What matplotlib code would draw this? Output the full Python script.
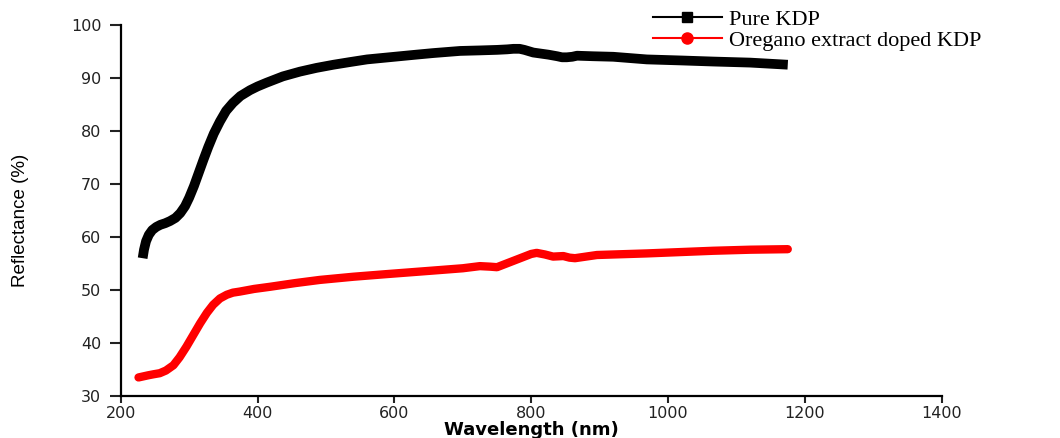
import matplotlib.pyplot as plt
from matplotlib.lines import Line2D

# reflectance spectra
wl_pure = [232, 234, 237, 241, 246, 252, 258, 265, 272, 280, 287, 294, 300, 307, 314,
           321, 328, 336, 345, 354, 364, 375, 389, 400, 413, 437, 462, 486, 511, 535,
           560, 584, 608, 632, 657, 696, 725, 750, 765, 774, 783, 790, 803, 825, 838,
           845, 852, 860, 867, 890, 920, 969, 1020, 1066, 1120, 1175]
r_pure = [56.0, 57.6, 59.2, 60.4, 61.3, 61.9, 62.3, 62.6, 63.0, 63.6, 64.5, 65.8, 67.4,
          69.6, 72.1, 74.6, 77.0, 79.5, 81.8, 83.8, 85.3, 86.6, 87.7, 88.4, 89.1, 90.3,
          91.2, 91.9, 92.5, 93.0, 93.5, 93.8, 94.1, 94.4, 94.7, 95.1, 95.2, 95.3, 95.4,
          95.5, 95.5, 95.3, 94.8, 94.4, 94.1, 93.9, 93.9, 94.0, 94.2, 94.1, 94.0, 93.5,
          93.3, 93.1, 92.9, 92.5]

wl_dop = [226, 233, 240, 248, 257, 266, 277, 286, 296, 306, 316, 326, 335, 345, 355,
          364, 374, 395, 418, 455, 491, 540, 589, 650, 700, 725, 740, 750, 762, 774,
          790, 800, 808, 820, 832, 847, 856, 864, 880, 896, 969, 1066, 1120, 1175]
r_dop = [33.5, 33.7, 33.9, 34.1, 34.3, 34.8, 35.8, 37.3, 39.3, 41.5, 43.7, 45.7, 47.2,
         48.4, 49.1, 49.5, 49.7, 50.2, 50.6, 51.3, 51.9, 52.5, 53.0, 53.6, 54.1, 54.5,
         54.4, 54.3, 54.9, 55.5, 56.3, 56.8, 57.0, 56.7, 56.3, 56.4, 56.1, 56.0, 56.3,
         56.6, 56.9, 57.4, 57.6, 57.7]

labels = ['Pure KDP', 'Oregano extract doped KDP']
xticks = [200, 400, 600, 800, 1000, 1200, 1400]
yticks = [30, 40, 50, 60, 70, 80, 90, 100]

fig = plt.figure(figsize=(10.6, 4.38), dpi=100)
ax = fig.add_axes([0.1139, 0.0959, 0.7745, 0.8471])

ax.plot(wl_pure, r_pure, color='black', lw=7, solid_capstyle='butt', solid_joinstyle='round')
ax.plot(wl_dop, r_dop, color='#ff0000', lw=6, solid_capstyle='round', solid_joinstyle='round')

ax.set_xlim(200, 1400)
ax.set_ylim(30, 100)
ax.set_xticks(xticks)
ax.set_yticks(yticks)

for side in ['top', 'right']:
    ax.spines[side].set_visible(False)
for side in ['left', 'bottom']:
    ax.spines[side].set_linewidth(1.6)

ax.tick_params(axis='x', length=5, width=1.5, pad=2, labelsize=11.5, colors='#222222')
ax.tick_params(axis='y', length=8, width=1.5, pad=6, labelsize=11.5, colors='#222222')

ax.set_xlabel('Wavelength (nm)', fontsize=13, fontweight='bold', va='top')
ax.xaxis.set_label_coords(0.5, -0.068)
ax.set_ylabel('Reflectance (%)', fontsize=13.5, family=['Liberation Sans', 'DejaVu Sans'])
ax.yaxis.set_label_coords(-0.112, 0.472)

handles = [Line2D([], [], color='black', lw=1.5, marker='s', ms=7),
           Line2D([], [], color='#ff0000', lw=1.5, marker='o', ms=8)]
fig.legend(handles, labels, loc='upper left', bbox_to_anchor=(0.616, 0.978),
           frameon=False, borderpad=0, borderaxespad=0, labelspacing=0.0,
           handlelength=3.1, handletextpad=0.3,
           prop={'family': 'Liberation Serif', 'size': 16})

fig.savefig('out.png', dpi=100)
